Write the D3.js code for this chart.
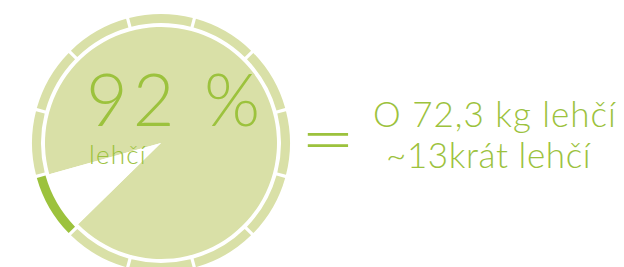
<!DOCTYPE html>
<html>
<head>
<meta charset="utf-8">
<script src="https://cdn.jsdelivr.net/npm/d3@7"></script>
<style>
  body { margin: 0; background: #fff; }
  text { font-family: "Lato", "Liberation Sans", Arial, sans-serif; font-weight: 300; }
</style>
</head>
<body>
<div id="chart"></div>
<script>
// data
var sliceLabels = ["lehčí", "zbytek"];
var sliceValues = [92, 8];
var ringSegments = d3.range(12);    // outer ring, 12 pieces
var ringHighlight = 7;              // piece that matches the small slice
var headline = "92 %";
var subLabel = "lehčí";
var resultLines = ["O 72,3 kg lehčí", "~13krát lehčí"];

// chart dimensions
var width = 624;
var height = 267;
var cx = 161, cy = 143;
var pieRadius = 116;
var ringInner = 120, ringOuter = 129;

var lightGreen = "#d9e0a7";
var green = "#9cc23d";

var svg = d3.select('#chart')
  .append('svg')
  .attr('width', width)
  .attr('height', height);

var g = svg.append('g')
  .attr('transform', 'translate(' + cx + ',' + cy + ')');

// ring pieces, offset half a piece so the gaps sit at 15deg, 45deg ...
var step = 2 * Math.PI / ringSegments.length;
var ringArc = d3.arc()
  .innerRadius(ringInner)
  .outerRadius(ringOuter)
  .padRadius(ringOuter)
  .padAngle(3.2 / ringOuter);

g.selectAll('path.ring')
  .data(ringSegments)
  .enter()
  .append('path')
  .attr('class', 'ring')
  .attr('d', function(d) {
    return ringArc({ startAngle: step / 2 + d * step, endAngle: step / 2 + (d + 1) * step });
  })
  .attr('fill', function(d) { return d === ringHighlight ? green : lightGreen; });

// pie: the small slice is centred on the highlighted ring piece
var total = d3.sum(sliceValues);
var smallHalf = Math.PI * sliceValues[1] / total;
var start = step / 2 + (ringHighlight + 0.5) * step + smallHalf;
var pie = d3.pie()
  .value(function(d) { return d; })
  .sort(null)
  .startAngle(start)
  .endAngle(start + 2 * Math.PI);

var arc = d3.arc().innerRadius(0).outerRadius(pieRadius);

g.selectAll('path.slice')
  .data(pie(sliceValues))
  .enter()
  .append('path')
  .attr('class', 'slice')
  .attr('d', arc)
  .attr('fill', function(d, i) { return i === 0 ? lightGreen : "#ffffff"; });

// texts
svg.append('text')
  .attr('x', 86).attr('y', 126)
  .attr('font-size', 72)
  .attr('letter-spacing', 5)
  .attr('fill', green)
  .text(headline);

svg.append('text')
  .attr('x', 89).attr('y', 164)
  .attr('font-size', 26)
  .attr('letter-spacing', 1.2)
  .attr('fill', green)
  .text(subLabel);

// equals sign, stretched a little wider like the original
svg.append('text')
  .attr('transform', 'translate(328,165) scale(1.35,1)')
  .attr('text-anchor', 'middle')
  .attr('font-size', 72)
  .attr('font-weight', 400)
  .attr('fill', green)
  .text("=");

svg.selectAll('text.result')
  .data(resultLines)
  .enter()
  .append('text')
  .attr('class', 'result')
  .attr('x', function(d, i) { return i === 0 ? 373 : 386; })
  .attr('y', function(d, i) { return 127 + i * 41; })
  .attr('font-size', 35)
  .attr('letter-spacing', function(d, i) { return i === 0 ? 1 : 0.6; })
  .attr('fill', green)
  .text(function(d) { return d; });
</script>
</body>
</html>
